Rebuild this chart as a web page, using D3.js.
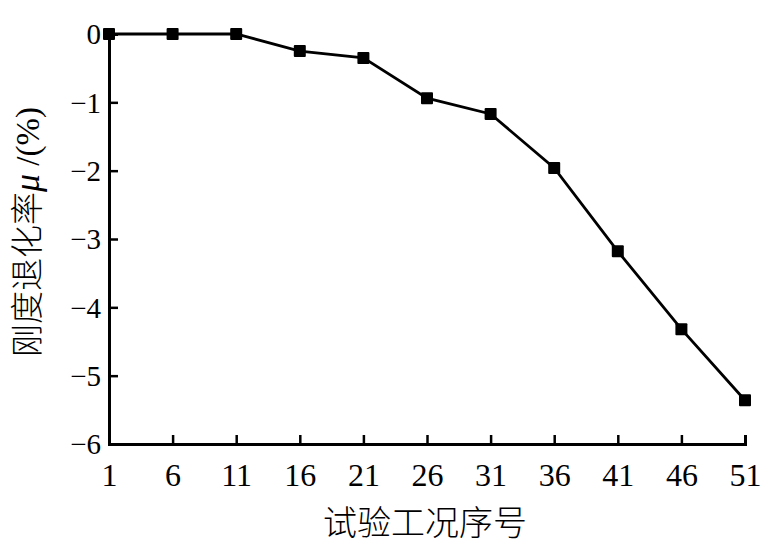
<!DOCTYPE html>
<html><head><meta charset="utf-8">
<script src="https://cdn.jsdelivr.net/npm/d3@7"></script>
<style>body{margin:0;background:#fff}
.serif{font-family:"Liberation Serif","Times New Roman","DejaVu Serif",serif !important}
.cjk{font-family:"Noto Sans CJK SC",sans-serif !important}
</style>
</head><body>
<svg id="c" width="781" height="557"></svg>
<script>
const cases = [1, 6, 11, 16, 21, 26, 31, 36, 41, 46, 51];
const mu = [0, 0, 0, -0.25, -0.35, -0.94, -1.17, -1.96, -3.18, -4.32, -5.36];
const xTicks = [1, 6, 11, 16, 21, 26, 31, 36, 41, 46, 51];
const yTicks = [0, -1, -2, -3, -4, -5, -6];
const xTitle = "试验工况序号";
const yTitle = "刚度退化率";

const svg = d3.select("#c");
const L = 109, R = 745, T = 34, B = 444;
const x = d3.scaleLinear().domain([1, 51]).range([L, R]);
const y = d3.scaleLinear().domain([-6, 0]).range([B, T]);

const xa = svg.append("g").attr("transform", `translate(0,${B})`)
  .call(d3.axisBottom(x).tickValues(xTicks).tickSize(-9).tickPadding(0).tickFormat(d3.format("d")));
xa.attr("font-family", null);
xa.select(".domain").attr("stroke-width", 3);
xa.selectAll(".tick line").attr("stroke-width", 2.5);
xa.selectAll(".tick text").attr("class", "serif").attr("font-size", 32).attr("fill", "#000")
  .attr("y", 42).attr("dy", 0);

const ya = svg.append("g").attr("transform", `translate(${L},0)`)
  .call(d3.axisLeft(y).tickValues(yTicks).tickSize(-9).tickPadding(0).tickFormat(d => d === 0 ? "0" : "\u2212" + Math.abs(d)));
ya.attr("font-family", null);
ya.select(".domain").attr("stroke-width", 3);
ya.selectAll(".tick line").attr("stroke-width", 2.5);
ya.selectAll(".tick text").attr("class", "serif").attr("font-size", 29).attr("fill", "#000")
  .attr("x", -8).attr("dy", "0.34em");
ya.selectAll(".tick").filter(d => d === 0).select("line").remove();
xa.selectAll(".tick").filter(d => d === 1).select("line").remove();

const line = d3.line().x((d, i) => x(cases[i])).y(d => y(d));
svg.append("path").datum(mu).attr("d", line).attr("fill", "none").attr("stroke", "#000").attr("stroke-width", 2.8);
svg.selectAll("rect.m").data(mu).enter().append("rect").attr("class", "m")
  .attr("x", (d, i) => x(cases[i]) - 6).attr("y", d => y(d) - 6)
  .attr("width", 12).attr("height", 12).attr("rx", 1).attr("fill", "#000");

svg.append("text").attr("class", "cjk").attr("x", 425).attr("y", 535).attr("text-anchor", "middle")
  .attr("font-size", 34).attr("font-weight", 300)
  .attr("fill", "#000").text(xTitle);

const yt = svg.append("text").attr("transform", "translate(39,232) rotate(-90)").attr("text-anchor", "middle")
  .attr("font-size", 33).attr("fill", "#000");
yt.append("tspan").attr("class", "cjk").attr("font-weight", 300).text(yTitle);
yt.append("tspan").attr("class", "serif").attr("font-style", "italic").attr("font-size", 36).text("\u03bc");
yt.append("tspan").attr("class", "serif").text(" /(%)");
</script>
</body></html>
